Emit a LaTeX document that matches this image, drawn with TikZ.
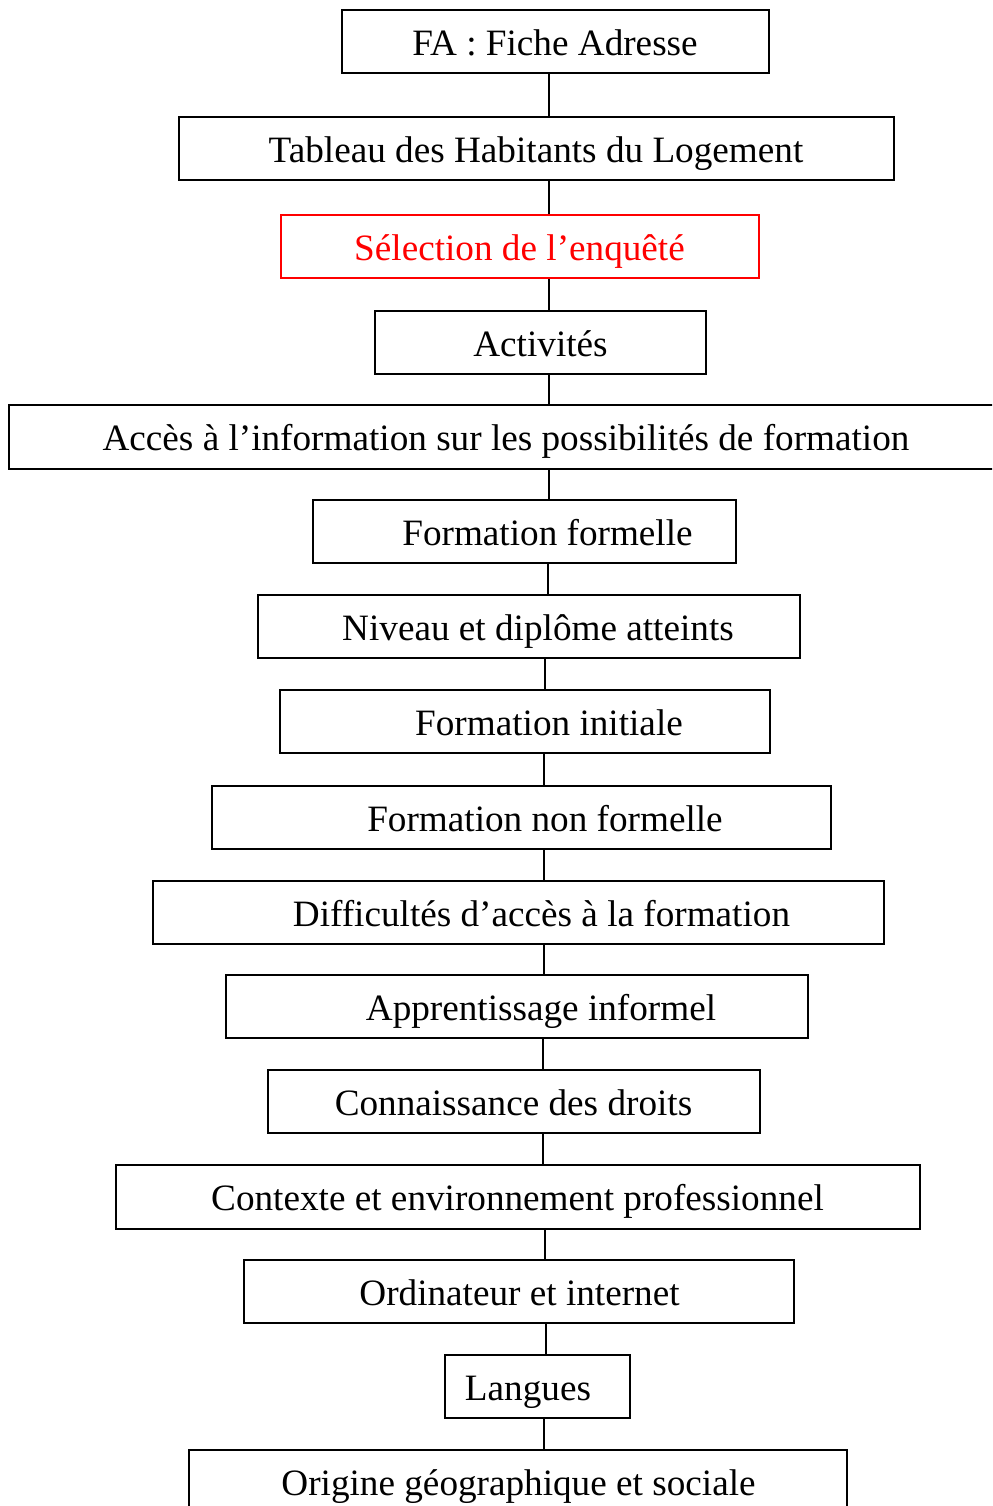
\documentclass[tikz,border=0pt]{standalone}
\usepackage{fontspec}
\setmainfont{Liberation Serif}
\usepackage{tikz}

\tikzset{
  box/.style={draw, line width=1pt, inner sep=0pt},
  sz/.style 2 args={minimum width=#1*0.5pt, minimum height=#2*0.5pt},
  lbl/.style={anchor=base, inner sep=0pt, font=\fontsize{18.6}{22}\selectfont},
  lnk/.style={line width=0.7pt}
}

\begin{document}
\begin{tikzpicture}[x=0.5pt,y=-0.5pt]
\clip (0,0) rectangle (992,1506);
% boxes
\node[box, sz={427}{63}] (fa) at (555.5,41.5) {};
\node[box, sz={715}{63}] (tab) at (536.5,148.5) {};
\node[box, sz={478}{63}, draw=red, line width=0.75pt] (sel) at (520,246.5) {};
\node[box, sz={331}{63}] (act) at (540.5,342.5) {};
\node[box, sz={994}{64}] (acc) at (506,437) {};
\node[box, sz={423}{63}] (ff) at (524.5,531.5) {};
\node[box, sz={542}{63}] (niv) at (529,626.5) {};
\node[box, sz={490}{63}] (fi) at (525,721.5) {};
\node[box, sz={619}{63}] (fnf) at (521.5,817.5) {};
\node[box, sz={731}{63}] (dif) at (518.5,912.5) {};
\node[box, sz={582}{63}] (app) at (517,1006.5) {};
\node[box, sz={492}{63}] (con) at (514,1101.5) {};
\node[box, sz={804}{64}] (ctx) at (518,1197) {};
\node[box, sz={550}{63}] (ord) at (519,1291.5) {};
\node[box, sz={185}{63}] (lan) at (537.5,1386.5) {};
\node[box, sz={658}{63}] (ori) at (518,1481.5) {};
% texts
\node[lbl] (faT) at (555,55.3) {FA : Fiche Adresse};
\node[lbl] (tabT) at (536,162.3) {Tableau des Habitants du Logement};
\node[lbl, text=red] (selT) at (519.5,260.3) {Sélection de l’enquêté};
\node[lbl] (actT) at (540.5,356.3) {Activités};
\node[lbl] (accT) at (506,450.8) {Accès à l’information sur les possibilités de formation};
\node[lbl] (ffT) at (547.5,545.3) {Formation formelle};
\node[lbl] (nivT) at (538,640.3) {Niveau et diplôme atteints};
\node[lbl] (fiT) at (549,735.3) {Formation initiale};
\node[lbl] (fnfT) at (545,831.3) {Formation non formelle};
\node[lbl] (difT) at (541.5,926.3) {Difficultés d’accès à la formation};
\node[lbl] (appT) at (541,1020.3) {Apprentissage informel};
\node[lbl] (conT) at (513.5,1115.3) {Connaissance des droits};
\node[lbl] (ctxT) at (517.5,1210.8) {Contexte et environnement professionnel};
\node[lbl] (ordT) at (519.5,1305.3) {Ordinateur et internet};
\node[lbl] (lanT) at (528,1400.3) {Langues};
\node[lbl] (oriT) at (518.5,1495.3) {Origine géographique et sociale};
% links
\draw[lnk] (fa.south -| 549,0) -- (tab.north -| 549,0);
\draw[lnk] (tab.south -| 549,0) -- (sel.north -| 549,0);
\draw[lnk] (sel.south -| 549,0) -- (act.north -| 549,0);
\draw[lnk] (act.south -| 549,0) -- (acc.north -| 549,0);
\draw[lnk] (acc.south -| 549,0) -- (ff.north -| 549,0);
\draw[lnk] (ff.south -| 548,0) -- (niv.north -| 548,0);
\draw[lnk] (niv.south -| 545,0) -- (fi.north -| 545,0);
\draw[lnk] (fi.south -| 544,0) -- (fnf.north -| 544,0);
\draw[lnk] (fnf.south -| 544,0) -- (dif.north -| 544,0);
\draw[lnk] (dif.south -| 544,0) -- (app.north -| 544,0);
\draw[lnk] (app.south -| 543,0) -- (con.north -| 543,0);
\draw[lnk] (con.south -| 543,0) -- (ctx.north -| 543,0);
\draw[lnk] (ctx.south -| 545,0) -- (ord.north -| 545,0);
\draw[lnk] (ord.south -| 546,0) -- (lan.north -| 546,0);
\draw[lnk] (lan.south -| 544,0) -- (ori.north -| 544,0);
\end{tikzpicture}
\end{document}
